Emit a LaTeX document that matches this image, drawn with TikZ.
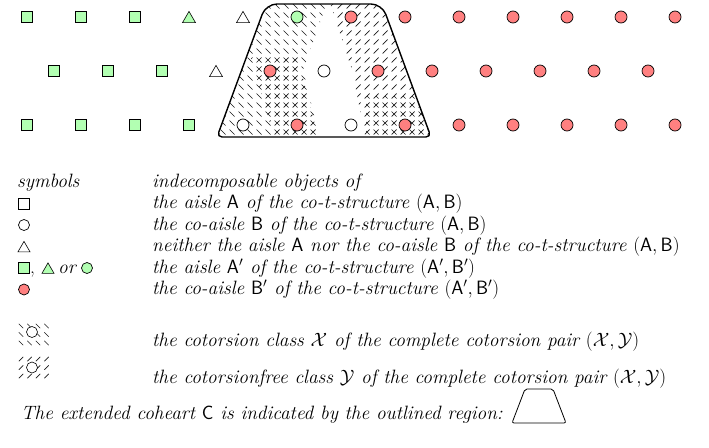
\RequirePackage{fix-cm}
\documentclass[tikz,border=0pt]{standalone}
\usepackage{fontspec}
\usetikzlibrary{shapes.geometric}
\definecolor{gfill}{RGB}{178,255,178}
\definecolor{rfill}{RGB}{255,128,128}
\begin{document}
\begin{tikzpicture}[x=1pt,y=-1pt,
  sqbase/.style={draw, line width=0.8pt, minimum size=11pt, inner sep=0pt, rectangle},
  gsq/.style={sqbase, fill=gfill},
  wsq/.style={sqbase, fill=white},
  cbase/.style={draw, line width=0.7pt, circle, minimum size=12pt, inner sep=0pt},
  gcirc/.style={cbase, fill=gfill},
  rcirc/.style={cbase, fill=rfill},
  wcirc/.style={cbase, fill=white},
  tbase/.style={draw, line width=0.6pt, regular polygon, regular polygon sides=3, minimum size=15pt, inner sep=0pt, yshift=-1.9pt},
  gtri/.style={tbase, fill=gfill},
  wtri/.style={tbase, fill=white},
  hatch/.style={line width=0.7pt, black!90},
  lbl/.style={font=\fontsize{19.3}{22}\selectfont\itshape, inner sep=0pt, anchor=base west},
  border/.style={line width=1.4pt}
]
\useasboundingbox (0,0) rectangle (709,447);

% ---------- hatching inside the extended coheart ----------
\begin{scope}
  \clip (324,137) [rounded corners=5pt] -- (217,137) [rounded corners=11pt] -- (266,4) -- (382,4) [rounded corners=5pt] -- (431,137) -- cycle;
  % X (north-west strokes), left part
  \begin{scope}
    \clip (200,0) -- (328,0) -- (303,70) -- (320,140) -- (200,140) -- cycle;
    \draw[hatch] \foreach \i in {0,...,25} { \foreach \j in {0,...,15} { (214+9*\i-2.5, 6+9*\j-2.5) -- ++(5,5) } };
  \end{scope}
  % X, lower right part
  \begin{scope}
    \clip (366,96) -- (450,96) -- (450,140) -- (366,140) -- cycle;
    \draw[hatch] \foreach \i in {0,...,25} { \foreach \j in {0,...,15} { (214+9*\i-2.5, 6+9*\j-2.5) -- ++(5,5) } };
  \end{scope}
  % Y (north-east strokes), left band
  \begin{scope}
    \clip (250,55) -- (297,55) -- (319,140) -- (275,140) -- cycle;
    \draw[hatch] \foreach \i in {0,...,25} { \foreach \j in {0,...,15} { (214+9*\i-2.5, 6+9*\j+2.5) -- ++(5,-5) } };
  \end{scope}
  % Y, right part
  \begin{scope}
    \clip (329,0) -- (450,0) -- (450,140) -- (366,140) -- (352,70) -- cycle;
    \draw[hatch] \foreach \i in {0,...,25} { \foreach \j in {0,...,15} { (214+9*\i-2.5, 6+9*\j+2.5) -- ++(5,-5) } };
  \end{scope}
\end{scope}

% outline of the extended coheart
\draw[border] (324,137) [rounded corners=5pt] -- (217,137) [rounded corners=11pt] -- (266,4) -- (382,4) [rounded corners=5pt] -- (431,137) -- cycle;

% ---------- the grid of indecomposables ----------
\foreach \x [count=\c] in {27,81,135} \node[gsq] (t\c) at (\x,17) {};
\node[gtri] (t4) at (189,17) {};
\node[wtri] (t5) at (243,17) {};
\node[gcirc] (t6) at (297,17) {};
\foreach \x [count=\c from 7] in {351,405,459,513,567,621,675} \node[rcirc] (t\c) at (\x,17) {};

\foreach \x [count=\c] in {54,108,162} \node[gsq] (m\c) at (\x,71) {};
\node[wtri] (m4) at (216,71) {};
\node[rcirc] (m5) at (270,71) {};
\node[wcirc] (m6) at (324,71) {};
\foreach \x [count=\c from 7] in {378,432,486,540,594,648} \node[rcirc] (m\c) at (\x,71) {};

\foreach \x [count=\c] in {27,81,135,189} \node[gsq] (b\c) at (\x,125) {};
\node[wcirc] (b5) at (243,125) {};
\node[rcirc] (b6) at (297,125) {};
\node[wcirc] (b7) at (351,125) {};
\foreach \x [count=\c from 8] in {405,459,513,567,621,675} \node[rcirc] (b\c) at (\x,125) {};

% ---------- legend ----------
\node[lbl] (hsym) at (17,187) {symbols};
\node[lbl] (hobj) at (152,187) {indecomposable objects of};

\node[wsq] (l1) at (23.5,203.5) {};
\node[lbl] (d1) at (152,208.5) {the aisle $\mathsf{A}$ of the co-t-structure $(\mathsf{A},\mathsf{B})$};

\node[wcirc, minimum size=11pt] (l2) at (24,225) {};
\node[lbl] (d2) at (152,230) {the co-aisle $\mathsf{B}$ of the co-t-structure $(\mathsf{A},\mathsf{B})$};

\node[wtri, minimum size=14pt] (l3) at (24,246.5) {};
\node[lbl] (d3) at (152,251.5) {neither the aisle $\mathsf{A}$ nor the co-aisle $\mathsf{B}$ of the co-t-structure $(\mathsf{A},\mathsf{B})$};

\node[gsq] (l4a) at (23.5,268) {};
\node[lbl, font=\fontsize{19.3}{22}\selectfont] (l4c) at (30,273) {,};
\node[gtri, minimum size=14pt] (l4b) at (48,268) {};
\node[lbl] (l4o) at (58,273) {or};
\node[gcirc, minimum size=11pt] (l4d) at (87,268) {};
\node[lbl] (d4) at (152,273) {the aisle $\mathsf{A}'$ of the co-t-structure $(\mathsf{A}',\mathsf{B}')$};

\node[rcirc, minimum size=11pt] (l5) at (24,289.5) {};
\node[lbl] (d5) at (152,294.5) {the co-aisle $\mathsf{B}'$ of the co-t-structure $(\mathsf{A}',\mathsf{B}')$};

% hatch legend patches
\draw[hatch] \foreach \i in {0,...,3} { \foreach \j in {0,...,2} { (21+8.5*\i-2.2, 326+8.5*\j-2.2) -- ++(4.4,4.4) } };
\node[wcirc, minimum size=11pt, line width=0.6pt] (l6) at (32,332) {};
\node[lbl] (d6) at (152,346.5) {the cotorsion class $\mathcal{X}$ of the complete cotorsion pair $(\mathcal{X},\mathcal{Y})$};

\draw[hatch] \foreach \i in {0,...,3} { \foreach \j in {0,...,2} { (21+8.5*\i-2.2, 359+8.5*\j+2.2) -- ++(4.4,-4.4) } };
\node[wcirc, minimum size=11pt, line width=0.6pt] (l7) at (32,367.5) {};
\node[lbl] (d7) at (152,383) {the cotorsionfree class $\mathcal{Y}$ of the complete cotorsion pair $(\mathcal{X},\mathcal{Y})$};

\node[lbl] (cap) at (21,419) {The extended coheart $\mathsf{C}$ is indicated by the outlined region:};
\draw[line width=0.8pt, rounded corners=2pt] (512,423) -- (525,389) -- (553,389) -- (566,423) -- cycle;
\end{tikzpicture}
\end{document}
